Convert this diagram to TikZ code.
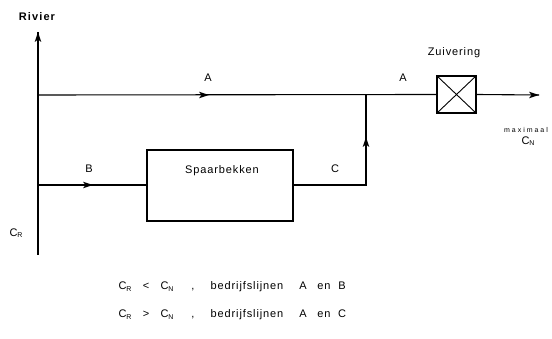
\documentclass[tikz,border=0pt]{standalone}
\usepackage{fontspec}
\setmainfont{Liberation Sans}
\tikzset{
  x=1pt,y=-1pt,
  flow/.style={line width=1.1pt},
  unit/.style={draw,line width=1.1pt,inner sep=0pt},
  lbl/.style={font=\fontsize{11}{12}\selectfont\addfontfeatures{LetterSpace=8},inner sep=0pt},
  row/.style={lbl,anchor=base},
  % filled dart arrowhead, tip at the origin, pointing along +x
  dart/.pic={\fill (0,0) -- (-10,-3.3) -- (-7.5,0) -- (-10,3.3) -- cycle;},
}
\newcommand{\sub}[1]{\raisebox{-1.5pt}{\fontsize{7}{7}\selectfont #1}}
\begin{document}
\begin{tikzpicture}
\useasboundingbox (0,0) rectangle (552,339);
% river and branch points
\coordinate (rtop) at (38,32);
\coordinate (rbot) at (38,255);
\coordinate (ja) at (38,95);
\coordinate (jb) at (38,185);
\coordinate (jc) at (366,95);
\coordinate (corner) at (366,185);
\coordinate (out) at (539,95);
% arrowhead positions along the lines
\coordinate (ma) at (209,95);
\coordinate (mb) at (93,185);
\coordinate (mc) at (366,137);
% treatment unit and reservoir
\node[unit,minimum width=39pt,minimum height=37pt] (zuiv) at (456.5,94.5) {};
\draw[line width=0.9pt] (zuiv.north west) -- (zuiv.south east)
      (zuiv.south west) -- (zuiv.north east);
\node[unit,minimum width=146pt,minimum height=71pt] (spaar) at (220,185.5) {};
\node[lbl] (spaartxt) at (222,171) {Spaarbekken};
% the river
\draw[line width=2pt] (rbot) -- (38,46);
\draw[line width=1.2pt] (38,48) -- (rtop);
\pic[rotate=90] at (rtop) {dart};
% line A
\draw[flow] (ja) -- (zuiv.west);
\pic at (ma) {dart};
\draw[flow] (zuiv.east) -- (out);
\pic at (out) {dart};
% line B
\draw[flow] (jb) -- (spaar.west |- jb);
\pic at (mb) {dart};
% line C
\draw[flow] (spaar.east |- jb) -- (corner) -- (jc);
\pic[rotate=90] at (mc) {dart};
% labels
\node[lbl,font=\bfseries\fontsize{11}{12}\selectfont\addfontfeatures{LetterSpace=10}] (rivier) at (37,17) {Rivier};
\node[lbl] (la1) at (208,78) {A};
\node[lbl] (la2) at (403,78) {A};
\node[lbl] (lb) at (89,169) {B};
\node[lbl] (lc) at (335,169) {C};
\node[lbl] (zuivtxt) at (454,53) {Zuivering};
\node[lbl,font=\fontsize{7}{8}\selectfont\addfontfeatures{LetterSpace=28}] (max) at (526,130) {maximaal};
\node[lbl] (cn) at (528,141) {C\sub{N}};
\node[lbl] (cr) at (16,233) {C\sub{R}};
% operating conditions
\node[row] (r1a) at (125,290) {C\sub{R}};
\node[row] (r1b) at (146,290) {<};
\node[row] (r1c) at (167,290) {C\sub{N}};
\node[row] (r1d) at (193,290) {,};
\node[row] (r1e) at (247,290) {bedrijfslijnen};
\node[row] (r1f) at (303,290) {A};
\node[row] (r1g) at (324,290) {en};
\node[row] (r1h) at (342,290) {B};
\node[row] (r2a) at (125,318) {C\sub{R}};
\node[row] (r2b) at (146,318) {>};
\node[row] (r2c) at (167,318) {C\sub{N}};
\node[row] (r2d) at (193,318) {,};
\node[row] (r2e) at (247,318) {bedrijfslijnen};
\node[row] (r2f) at (303,318) {A};
\node[row] (r2g) at (324,318) {en};
\node[row] (r2h) at (342,318) {C};
\end{tikzpicture}
\end{document}
